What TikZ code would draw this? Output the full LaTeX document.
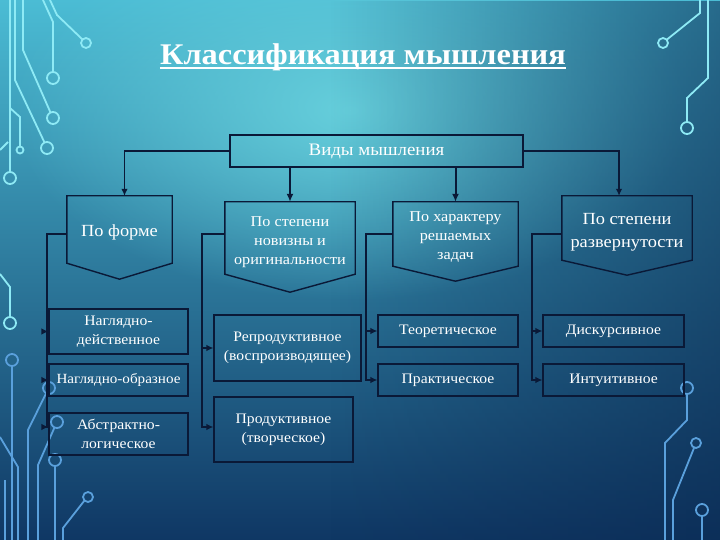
\documentclass[tikz,border=0pt]{standalone}
\usepackage{fontspec}
\setmainfont{Liberation Serif}[FakeStretch=1.08]
\usetikzlibrary{arrows.meta,calc,fadings}
\definecolor{bgTop}{HTML}{4BBCD4}
\definecolor{bgMid}{HTML}{2A88B7}
\definecolor{bgBot}{HTML}{0F3764}
\definecolor{bgGlow}{HTML}{66CFDC}
\definecolor{bgDark}{HTML}{0A2850}
\definecolor{linecol}{HTML}{0A1937}
\definecolor{circA}{HTML}{8EEAF5}
\definecolor{circB}{HTML}{5AA0DC}
\tikzfading[name=glowfade, inner color=transparent!0, outer color=transparent!100]
\tikzfading[name=rightfade, left color=transparent!100, right color=transparent!45]
\begin{document}
\begin{tikzpicture}[x=1pt,y=-1pt,
  ln/.style={draw=linecol, line width=1.2pt},
  arr/.style={ln, -{Latex[length=7pt,width=6.5pt]}},
  arrb/.style={draw=linecol, line width=2pt, -{Latex[length=8pt,width=7pt]}},
  pentline/.style={draw=linecol, line width=1.4pt, line join=miter},
  pent/.style={inner sep=0pt},
  penttext/.style={inner sep=0pt, text=white, align=center},
  box/.style={draw=linecol, line width=1.2pt, inner sep=0pt, text=white, align=center, font=\fontsize{14.5}{19}\selectfont},
  circA/.style={draw=circA, line width=1.8pt},
  circB/.style={draw=circB, line width=1.8pt}]
\useasboundingbox (0,0) rectangle (720,540);
\begin{scope}
\clip (0,0) rectangle (720,540);
\shade[top color=bgTop, middle color=bgMid, bottom color=bgBot] (0,0) rectangle (720,540);
\fill[bgGlow, path fading=glowfade] (350,110) ellipse [x radius=340, y radius=190];
\fill[bgDark, path fading=rightfade] (330,0) rectangle (720,540);
% circuit decoration - left top
\draw[circA] (10,0) -- (10,172);
\draw[circA] (10,178) circle (6);
\draw[circA] (10,108) -- (20,117) -- (20,146.5);
\draw[circA] (20,150) circle (3.5);
\draw[circA] (15,0) -- (15,80) -- (44.5,142.5);
\draw[circA] (47,148) circle (6);
\draw[circA] (23,0) -- (23,50) -- (50.5,112.5);
\draw[circA] (53,118) circle (6);
\draw[circA] (43,0) -- (53,22) -- (53,72);
\draw[circA] (53,78) circle (6);
\draw[circA] (50,0) -- (57,15) -- (82.5,39.5);
\draw[circA] (86,43) circle (5);
\draw[circA] (0,150) -- (8,142);
% left bottom
\draw[circA] (0,274) -- (10,287) -- (10,317);
\draw[circA] (10,323) circle (6);
\draw[circB] (12,360) circle (6);
\draw[circB] (12,366) -- (12,540);
\draw[circB] (49,388) circle (6);
\draw[circB] (46,393.5) -- (28,430) -- (28,540);
\draw[circB] (57,422) circle (6);
\draw[circB] (54.5,427.5) -- (38,465) -- (38,540);
\draw[circB] (55,460) circle (6);
\draw[circB] (55,466) -- (55,540);
\draw[circB] (88,497) circle (5);
\draw[circB] (84.5,500.5) -- (63,528) -- (63,540);
\draw[circB] (0,437) -- (18,467) -- (18,540);
\draw[circB] (5,480) -- (5,540);
% right top
\draw[circA] (700,0) -- (700,13) -- (667,39.5);
\draw[circA] (663,43) circle (5);
\draw[circA] (708,0) -- (708,78) -- (687,98) -- (687,122);
\draw[circA] (687,128) circle (6);
% right bottom
\draw[circB] (687,388) circle (6);
\draw[circB] (687,394) -- (687,420) -- (665,443) -- (665,540);
\draw[circB] (696,443) circle (5);
\draw[circB] (694,448) -- (673,500) -- (673,540);
\draw[circB] (702,510) circle (6);
\draw[circB] (702,516) -- (702,540);
\end{scope}

% title
\node[inner sep=0pt, text=white, font=\fontsize{30}{36}\selectfont\bfseries] (title) at (363,57) {Классификация мышления};
\draw[white, line width=1.5pt] ([yshift=-4pt]title.base west) -- ([yshift=-4pt]title.base east);

% top box
\node[box, minimum width=293pt, minimum height=32pt, font=\fontsize{17.5}{21}\selectfont] (V) at (376.5,151) {Виды мышления};

% header pentagons
\node[pent, minimum width=105pt, minimum height=67pt] (f1) at (119.5,229.5) {};
\node[pent, minimum width=130pt, minimum height=72pt] (f2) at (290,238) {};
\node[pent, minimum width=125pt, minimum height=64pt] (f3) at (455.5,234) {};
\node[pent, minimum width=130pt, minimum height=64pt] (f4) at (627,228) {};
\node[penttext, font=\fontsize{17}{21}\selectfont] (f1t) at ([yshift=-3pt]f1.center) {По форме};
\node[penttext, font=\fontsize{15}{19}\selectfont] (f2t) at ([yshift=-4pt]f2.center) {По степени\\новизны и\\оригинальности};
\node[penttext, font=\fontsize{15}{19}\selectfont] (f3t) at ([yshift=-3pt]f3.center) {По характеру\\решаемых\\задач};
\node[penttext, font=\fontsize{17}{23}\selectfont] (f4t) at ([yshift=-4pt]f4.center) {По степени\\развернутости};
\draw[pentline] (f1.north west) -- (f1.north east) -- (f1.south east) -- ([yshift=-16pt]f1.south) -- (f1.south west) -- cycle;
\draw[pentline] (f2.north west) -- (f2.north east) -- (f2.south east) -- ([yshift=-18pt]f2.south) -- (f2.south west) -- cycle;
\draw[pentline] (f3.north west) -- (f3.north east) -- (f3.south east) -- ([yshift=-15pt]f3.south) -- (f3.south west) -- cycle;
\draw[pentline] (f4.north west) -- (f4.north east) -- (f4.south east) -- ([yshift=-15pt]f4.south) -- (f4.south west) -- cycle;

% lower boxes
\node[box, minimum width=139pt, minimum height=45pt] (a1) at (118.5,331.5) {Наглядно-\\действенное};
\node[box, minimum width=139pt, minimum height=32pt, font=\fontsize{14}{19}\selectfont] (a2) at (118.5,380) {Наглядно-образное};
\node[box, minimum width=139pt, minimum height=42pt] (a3) at (118.5,434) {Абстрактно-\\логическое};
\node[box, minimum width=147pt, minimum height=66pt] (b1) at (287.5,348) {Репродуктивное\\(воспроизводящее)};
\node[box, minimum width=139pt, minimum height=65pt] (b2) at (283.5,429.5) {Продуктивное\\(творческое)};
\node[box, minimum width=140pt, minimum height=32pt] (c1) at (448,331) {Теоретическое};
\node[box, minimum width=140pt, minimum height=32pt] (c2) at (448,380) {Практическое};
\node[box, minimum width=141pt, minimum height=32pt] (d1) at (613.5,331) {Дискурсивное};
\node[box, minimum width=141pt, minimum height=32pt] (d2) at (613.5,380) {Интуитивное};

% connectors from top box
\draw[arr] (V.west) -| ([xshift=5pt]f1.north);
\draw[arr] (V.east) -| ([xshift=-8pt]f4.north);
\draw[arrb] (V.south -| f2.north) -- (f2.north);
\draw[arrb] (V.south -| f3.north) -- (f3.north);

% bus lines
\coordinate (bA) at (47,234);
\coordinate (bB) at (202,234);
\coordinate (bC) at (366,234);
\coordinate (bD) at (532,234);
\draw[arr] (f1.west |- bA) -- (bA) |- ([yshift=7pt]a3.west);
\draw[arr] (bA |- a1.west) -- (a1.west);
\draw[arr] (bA |- a2.west) -- (a2.west);
\draw[arr] (f2.west |- bB) -- (bB) |- ([yshift=2.5pt]b2.west);
\draw[arr] (bB |- b1.west) -- (b1.west);
\draw[arr] (f3.west |- bC) -- (bC) |- (c2.west);
\draw[arr] (bC |- c1.west) -- (c1.west);
\draw[arr] (f4.west |- bD) -- (bD) |- (d2.west);
\draw[arr] (bD |- d1.west) -- (d1.west);
\end{tikzpicture}
\end{document}
